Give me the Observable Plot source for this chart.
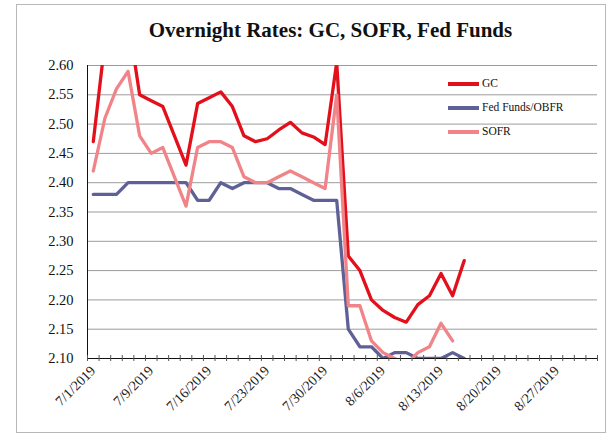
<!DOCTYPE html>
<html>
<head>
<meta charset="utf-8">
<script src="https://cdn.jsdelivr.net/npm/d3@7"></script>
<script src="https://cdn.jsdelivr.net/npm/@observablehq/plot@0.6"></script>
<style>
  html, body { margin: 0; padding: 0; background: #fff; }
  #wrap { position: relative; width: 613px; height: 439px; overflow: hidden; background: #fff; }
  #frame { position: absolute; left: 16px; top: 4px; width: 590px; height: 429px; border: 1px solid #b8b8b8; box-sizing: border-box; }
  #title { position: absolute; left: 0; top: 18px; width: 661px; text-align: center; font-family: "Liberation Serif", serif; font-weight: bold; font-size: 21px; color: #111; white-space: nowrap; }
  #chart { position: absolute; left: 0; top: 0; }
  #legend { position: absolute; left: 448px; top: 75px; font-family: "Liberation Serif", serif; font-size: 11.5px; color: #111; }
  .item { position: absolute; left: 0; height: 16px; white-space: nowrap; }
  .sw { position: absolute; left: 0; top: 7px; width: 31px; height: 3.5px; }
  .lb { position: absolute; left: 34px; top: 0; line-height: 16px; }
</style>
</head>
<body>
<div id="wrap">
  <div id="frame"></div>
  <div id="chart"></div>
  <div id="title"></div>
  <div id="legend"></div>
</div>
<script>
const titleText = "Overnight Rates: GC, SOFR, Fed Funds";

const dates = ["7/1/2019","7/2/2019","7/3/2019","7/5/2019","7/8/2019","7/9/2019","7/10/2019","7/11/2019","7/12/2019","7/15/2019","7/16/2019","7/17/2019","7/18/2019","7/19/2019","7/22/2019","7/23/2019","7/24/2019","7/25/2019","7/26/2019","7/29/2019","7/30/2019","7/31/2019","8/1/2019","8/2/2019","8/5/2019","8/6/2019","8/7/2019","8/8/2019","8/9/2019","8/12/2019","8/13/2019","8/14/2019","8/15/2019","8/16/2019","8/19/2019","8/20/2019","8/21/2019","8/22/2019","8/23/2019","8/26/2019","8/27/2019","8/28/2019","8/29/2019","8/30/2019"];

const gc = [2.47, 2.64, 2.66, 2.68, 2.55, 2.54, 2.53, 2.48, 2.43, 2.535, 2.545, 2.555, 2.53, 2.48, 2.47, 2.475, 2.49, 2.503, 2.485, 2.478, 2.465, 2.605, 2.275, 2.25, 2.20, 2.182, 2.17, 2.162, 2.192, 2.207, 2.245, 2.207, 2.267];
const fedFunds = [2.38, 2.38, 2.38, 2.40, 2.40, 2.40, 2.40, 2.40, 2.40, 2.37, 2.37, 2.40, 2.39, 2.40, 2.40, 2.40, 2.39, 2.39, 2.38, 2.37, 2.37, 2.37, 2.15, 2.12, 2.12, 2.10, 2.11, 2.11, 2.10, 2.10, 2.10, 2.11, 2.10];
const sofr = [2.42, 2.51, 2.56, 2.59, 2.48, 2.45, 2.46, 2.41, 2.36, 2.46, 2.47, 2.47, 2.46, 2.41, 2.40, 2.40, 2.41, 2.42, 2.41, 2.40, 2.39, 2.55, 2.19, 2.19, 2.13, 2.11, 2.10, 2.09, 2.11, 2.12, 2.16, 2.13];

const yTicks = [2.10, 2.15, 2.20, 2.25, 2.30, 2.35, 2.40, 2.45, 2.50, 2.55, 2.60];
const labelIdx = [0, 5, 10, 15, 20, 25, 30, 35, 40];

const seriesNames = ["GC", "Fed Funds/OBFR", "SOFR"];
const seriesColors = ["#e3101b", "#5f6196", "#f08488"];

const toRows = arr => arr.map((v, i) => ({pos: i + 0.5, date: dates[i], v}));
const bounds = d3.range(dates.length + 1);

const chart = Plot.plot({
  width: 613,
  height: 439,
  marginLeft: 87,
  marginRight: 16,
  marginTop: 65,
  marginBottom: 81,
  x: {domain: [0, dates.length], axis: null},
  y: {domain: [2.10, 2.60], axis: null},
  style: {fontFamily: "Liberation Serif, serif", fontSize: "14px", color: "#111", background: "transparent", overflow: "visible"},
  marks: [
    Plot.gridY(yTicks, {stroke: "#9c9c9c", strokeOpacity: 1, strokeWidth: 1}),
    Plot.axisY(yTicks, {label: null, tickSize: 0, tickPadding: 14, tickFormat: d3.format(".2f"), fontSize: 14.5, fill: "#111"}),
    Plot.ruleX([0], {stroke: "#111", strokeWidth: 1}),
    Plot.ruleY([2.10], {stroke: "#111", strokeWidth: 1}),
    Plot.ruleX(bounds, {x: d => d, y1: () => 2.10, y2: () => 2.10, insetTop: -3, insetBottom: -3, stroke: "#555", strokeWidth: 1}),
    Plot.text(labelIdx, {x: i => i + 0.5, frameAnchor: "bottom", text: i => dates[i], rotate: -45, textAnchor: "end", dx: 3, dy: 13, fontSize: 14, fill: "#222"}),
    Plot.line(toRows(gc), {x: "pos", y: "v", stroke: seriesColors[0], strokeWidth: 3.3, strokeLinejoin: "round", clip: true}),
    Plot.line(toRows(fedFunds), {x: "pos", y: "v", stroke: seriesColors[1], strokeWidth: 3.3, strokeLinejoin: "round", clip: true}),
    Plot.line(toRows(sofr), {x: "pos", y: "v", stroke: seriesColors[2], strokeWidth: 3.3, strokeLinejoin: "round", clip: true})
  ]
});
document.getElementById("chart").appendChild(chart);
document.getElementById("title").textContent = titleText;

const legend = document.getElementById("legend");
seriesNames.forEach((name, k) => {
  const item = document.createElement("div");
  item.className = "item";
  item.style.top = (k * 24) + "px";
  const sw = document.createElement("div");
  sw.className = "sw";
  sw.style.background = seriesColors[k];
  const lb = document.createElement("div");
  lb.className = "lb";
  lb.textContent = name;
  item.appendChild(sw);
  item.appendChild(lb);
  legend.appendChild(item);
});
</script>
</body>
</html>
